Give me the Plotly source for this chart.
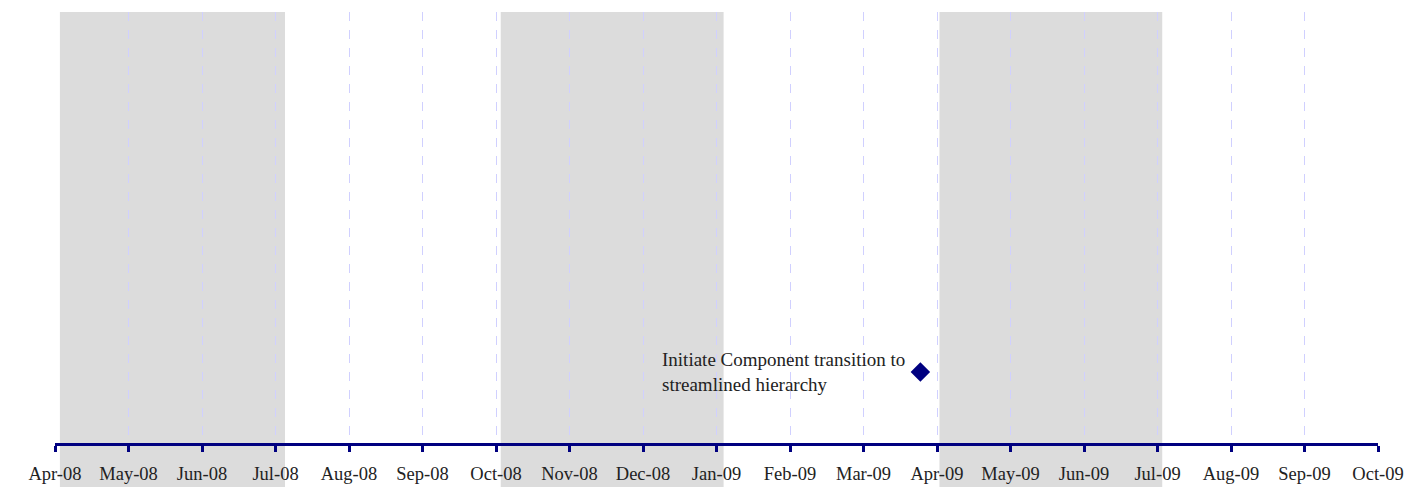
import plotly.graph_objects as go
import calendar

# Data
month_labels = ["Apr-08", "May-08", "Jun-08", "Jul-08", "Aug-08", "Sep-08", "Oct-08",
                "Nov-08", "Dec-08", "Jan-09", "Feb-09", "Mar-09", "Apr-09", "May-09",
                "Jun-09", "Jul-09", "Aug-09", "Sep-09", "Oct-09"]

event_dates = ["2009-03-25"]
event_levels = [0.165]
event_labels = ["Initiate Component transition to<br>streamlined hierarchy"]

band_starts = ["2008-04-03", "2008-10-03", "2009-04-02"]
band_ends = ["2008-07-05", "2009-01-04", "2009-07-03"]

START_YEAR, START_MONTH = 2008, 4

NAVY = "#000080"
FONT = "Liberation Serif"


def month_pos(d):
    """Position on an evenly spaced month axis (0 = Apr 2008)."""
    y, m, day = (int(v) for v in d.split("-"))
    idx = (y - START_YEAR) * 12 + (m - START_MONTH)
    return idx + (day - 1) / calendar.monthrange(y, m)[1]


fig = go.Figure()

ev_x = [month_pos(d) for d in event_dates]
fig.add_trace(go.Scatter(
    x=ev_x, y=event_levels, mode="markers",
    marker=dict(symbol="diamond", size=15, color=NAVY),
    hoverinfo="skip", showlegend=False,
))

for x, lvl, lab in zip(ev_x, event_levels, event_labels):
    fig.add_annotation(
        x=x, y=lvl, xref="x", yref="y", text=lab, showarrow=False,
        xanchor="right", yanchor="middle", align="left", xshift=-13,
        font=dict(family=FONT, size=19, color="#222222"),
    )

for s, e in zip(band_starts, band_ends):
    fig.add_shape(
        type="rect", xref="x", yref="paper", x0=month_pos(s), x1=month_pos(e),
        y0=-0.12, y1=1,
        fillcolor="#dcdcdc", line=dict(width=0), layer="below",
    )

fig.update_layout(
    width=1414, height=479,
    margin=dict(l=47, r=44, t=4, b=44, autoexpand=False),
    paper_bgcolor="white", plot_bgcolor="white",
    showlegend=False,
    font=dict(family=FONT, color="#222222"),
)

fig.update_xaxes(
    range=[0, len(month_labels) - 1],
    tickmode="array", tickvals=list(range(len(month_labels))), ticktext=month_labels,
    showgrid=True, gridcolor="#d0d0ff", gridwidth=1, griddash="dash",
    showline=True, linecolor=NAVY, linewidth=3,
    ticks="outside", ticklen=6, tickwidth=3, tickcolor=NAVY,
    tickfont=dict(family=FONT, size=18.5, color="#222222"),
    ticklabelstandoff=6,
    zeroline=False, automargin=False,
)
fig.update_yaxes(range=[0, 1], visible=False, showgrid=False, zeroline=False)

fig.write_html("out.html")
